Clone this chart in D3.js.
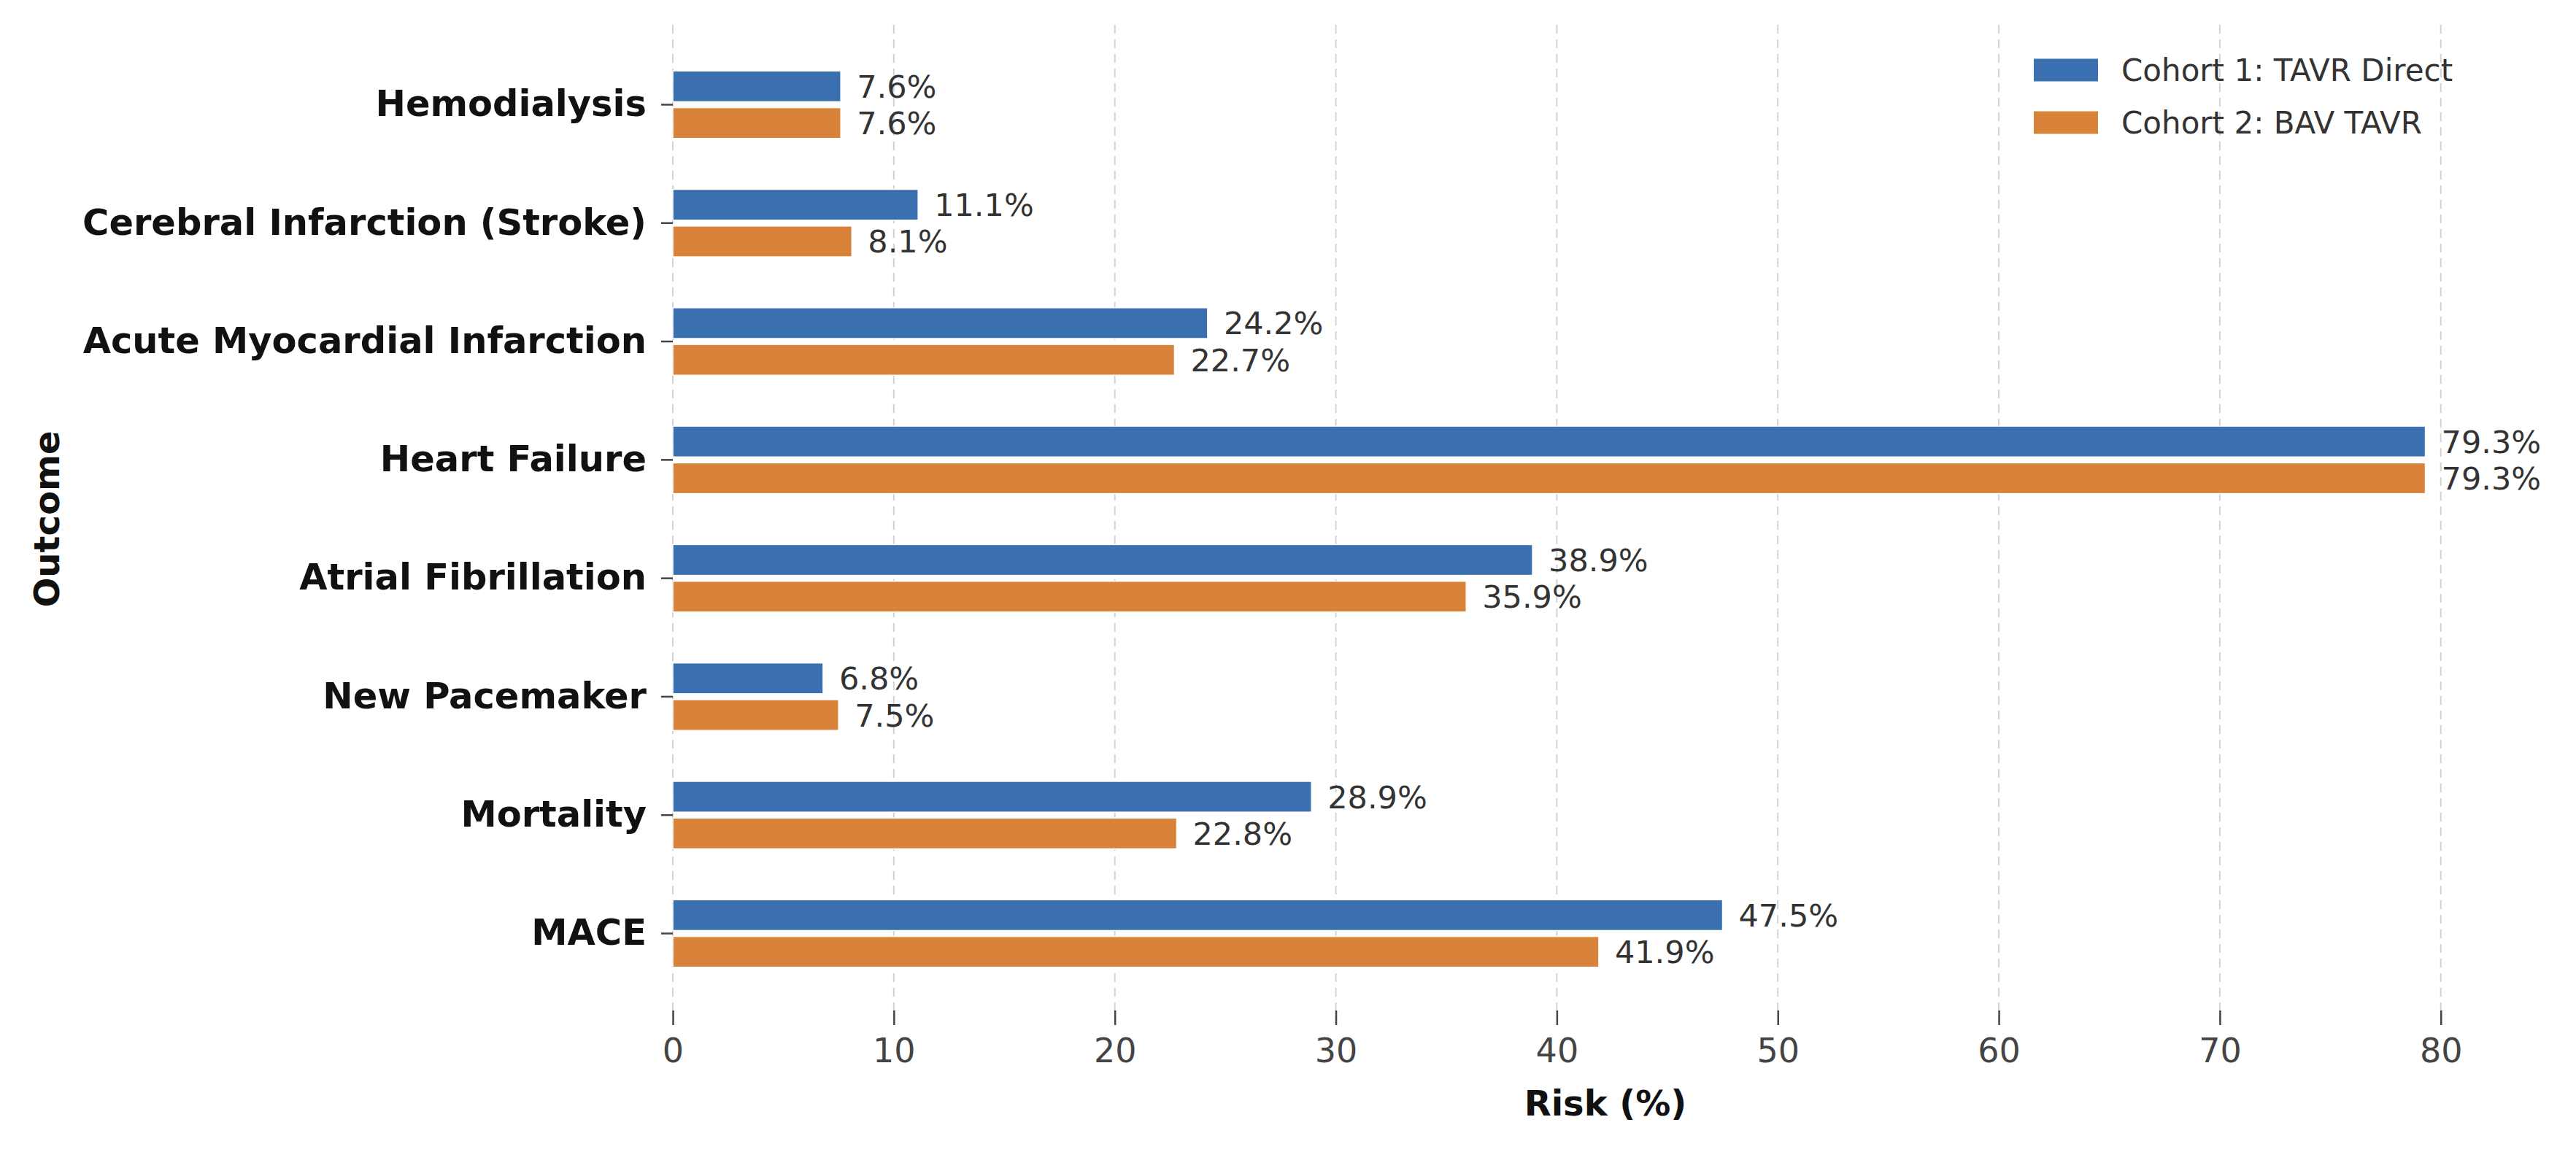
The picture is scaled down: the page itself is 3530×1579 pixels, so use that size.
<!DOCTYPE html>
<html>
<head>
<meta charset="utf-8">
<script src="https://cdn.jsdelivr.net/npm/d3@7"></script>
<style>
  body { margin: 0; background: #fff; }
  text { font-family: "DejaVu Sans", sans-serif; }
</style>
</head>
<body>
<div id="chart"></div>
<script>
// Data
const outcomes = ["Hemodialysis", "Cerebral Infarction (Stroke)", "Acute Myocardial Infarction",
    "Heart Failure", "Atrial Fibrillation", "New Pacemaker", "Mortality", "MACE"];
const cohort1 = [7.6, 11.1, 24.2, 79.3, 38.9, 6.8, 28.9, 47.5];
const cohort2 = [7.6, 8.1, 22.7, 79.3, 35.9, 7.5, 22.8, 41.9];
const seriesNames = ["Cohort 1: TAVR Direct", "Cohort 2: BAV TAVR"];
const seriesColors = ["#3a6fb0", "#d8823a"];
const xTicks = [0, 10, 20, 30, 40, 50, 60, 70, 80];

const W = 3530, H = 1579;
const plot = { left: 922, right: 3478, top: 38, bottom: 1385 };

const svg = d3.select("#chart")
    .append("svg")
    .attr("width", W)
    .attr("height", H);

svg.append("rect").attr("width", W).attr("height", H).attr("fill", "#fff");

// Scales
const xScale = d3.scaleLinear().domain([0, 84.4]).range([plot.left, plot.right]);
const yScale = d3.scaleBand().domain(outcomes).range([plot.top, plot.bottom])
    .paddingInner(0).paddingOuter(0.15);

const step = yScale.step();
const barH = step * 0.26;
const offset = step * 0.155;

// Grid lines
svg.append("g")
    .selectAll("line")
    .data(xTicks)
    .join("line")
    .attr("x1", d => xScale(d))
    .attr("x2", d => xScale(d))
    .attr("y1", plot.top - 4)
    .attr("y2", plot.bottom)
    .attr("stroke", "#d3d3d3")
    .attr("stroke-width", 2)
    .attr("stroke-dasharray", "12,8");

// Bars, one group per series
const series = [cohort1, cohort2];
series.forEach((vals, si) => {
    const rows = outcomes.map((o, i) => ({ outcome: o, value: vals[i] }));
    const dy = si === 0 ? -offset : offset;

    svg.append("g")
        .selectAll("rect")
        .data(rows)
        .join("rect")
        .attr("x", xScale(0))
        .attr("y", d => yScale(d.outcome) + step / 2 + dy - barH / 2)
        .attr("width", d => xScale(d.value) - xScale(0))
        .attr("height", barH)
        .attr("fill", seriesColors[si])
        .attr("stroke", "#fff")
        .attr("stroke-width", 1.5);

    svg.append("g")
        .selectAll("text")
        .data(rows)
        .join("text")
        .attr("x", d => xScale(d.value) + 22)
        .attr("y", d => yScale(d.outcome) + step / 2 + dy)
        .attr("dy", "0.36em")
        .attr("font-size", 43)
        .attr("fill", "#333")
        .text(d => d.value.toFixed(1) + "%");
});

// Axes
const xAxis = svg.append("g")
    .attr("transform", `translate(0, ${plot.bottom})`)
    .call(d3.axisBottom(xScale).tickValues(xTicks).tickSize(20).tickPadding(18).tickFormat(d3.format("d")));
xAxis.select(".domain").remove();
xAxis.selectAll(".tick line").attr("stroke", "#444").attr("stroke-width", 2.5);
xAxis.selectAll(".tick text").attr("font-size", 46).attr("fill", "#444")
    .attr("font-family", "DejaVu Sans");

const yAxis = svg.append("g")
    .attr("transform", `translate(${plot.left}, 0)`)
    .call(d3.axisLeft(yScale).tickSize(16).tickPadding(20));
yAxis.select(".domain").remove();
yAxis.selectAll(".tick line").attr("stroke", "#444").attr("stroke-width", 2.5);
yAxis.selectAll(".tick text").attr("font-size", 49.5).attr("font-weight", "bold")
    .attr("fill", "#111").attr("font-family", "DejaVu Sans");

// Axis titles
svg.append("text")
    .attr("x", (plot.left + plot.right) / 2)
    .attr("y", 1529)
    .attr("text-anchor", "middle")
    .attr("font-size", 48)
    .attr("font-weight", "bold")
    .attr("fill", "#111")
    .text("Risk (%)");

svg.append("text")
    .attr("transform", `translate(81, ${(plot.top + plot.bottom) / 2}) rotate(-90)`)
    .attr("text-anchor", "middle")
    .attr("font-size", 48)
    .attr("font-weight", "bold")
    .attr("fill", "#111")
    .text("Outcome");

// Legend
const legend = svg.append("g").attr("transform", "translate(2787, 96)");
seriesNames.forEach((name, i) => {
    legend.append("rect")
        .attr("x", 0)
        .attr("y", i * 72 - 15.5)
        .attr("width", 88)
        .attr("height", 31)
        .attr("fill", seriesColors[i]);
    legend.append("text")
        .attr("x", 120)
        .attr("y", i * 72)
        .attr("dy", "0.36em")
        .attr("font-size", 42)
        .attr("fill", "#333")
        .text(name);
});
</script>
</body>
</html>
